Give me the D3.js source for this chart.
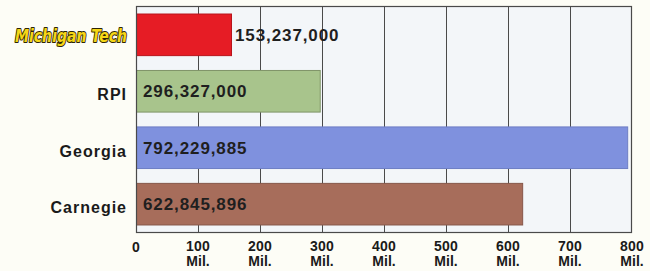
<!DOCTYPE html>
<html><head><meta charset="utf-8">
<script src="https://cdn.jsdelivr.net/npm/d3@7"></script>
<style>
html,body{margin:0;padding:0;background:#fdfdf6;}
svg{display:block;}
text{font-family:"Liberation Sans",Arial,Helvetica,sans-serif;font-weight:bold;}
</style></head>
<body>
<script>
const categories = ["MichiganTech", "RPI", "Georgia", "Carnegie"];
const values = [153237000, 296327000, 792229885, 622845896];
const valueLabels = ["153,237,000", "296,327,000", "792,229,885", "622,845,896"];
const barColors = ["#e61c25", "#a8c48c", "#7f91de", "#a76d5b"];
const barEdges = ["#b8141b", "#7f9468", "#6e7ec4", "#86574a"];
const tickValues = [0, 100, 200, 300, 400, 500, 600, 700, 800];

(function () {
const W = 650, H = 271;
const pL = 136, pR = 632, pT = 6, pB = 233;
const svg = d3.select("body").append("svg").attr("width", W).attr("height", H);

const x = d3.scaleLinear().domain([0, 800]).range([pL, pR]);
const y = d3.scaleBand().domain(categories).range([pT, pB]).paddingInner(0.263).paddingOuter(0.142);

svg.append("rect").attr("x", pL).attr("y", pT).attr("width", pR - pL).attr("height", pB - pT)
  .attr("fill", "#f3f6f9");

svg.append("g").selectAll("line").data(tickValues.slice(1, -1)).join("line")
  .attr("x1", d => x(d) + 0.5).attr("x2", d => x(d) + 0.5)
  .attr("y1", pT).attr("y2", pB)
  .attr("stroke", "#4a4a4a").attr("stroke-width", 1);

svg.append("g").selectAll("rect").data(categories).join("rect")
  .attr("x", pL + 0.5)
  .attr("y", d => y(d))
  .attr("width", (d, i) => x(values[i] / 1e6) - pL)
  .attr("height", y.bandwidth())
  .attr("fill", (d, i) => barColors[i])
  .attr("stroke", (d, i) => barEdges[i]).attr("stroke-width", 1);

svg.append("rect").attr("x", pL + 0.5).attr("y", pT + 0.5).attr("width", pR - pL - 1).attr("height", pB - pT - 1)
  .attr("fill", "none").attr("stroke", "#4a4a4a").attr("stroke-width", 1.2);

svg.append("g").selectAll("text").data(categories).join("text")
  .attr("x", (d, i) => i === 0 ? x(values[i] / 1e6) + 4 : pL + 7)
  .attr("y", d => y(d) + y.bandwidth() / 2 + 6)
  .attr("font-size", 17).attr("letter-spacing", 0.9)
  .attr("fill", "#1f1f1f")
  .text((d, i) => valueLabels[i]);

svg.append("g").selectAll("text").data(categories.slice(1)).join("text")
  .attr("x", 127)
  .attr("y", d => y(d) + y.bandwidth() / 2 + 9)
  .attr("text-anchor", "end")
  .attr("font-size", 16).attr("letter-spacing", 1.0)
  .attr("fill", "#1a1a1a")
  .text(d => d);

svg.append("text")
  .attr("x", 127).attr("y", y(categories[0]) + y.bandwidth() / 2 + 7)
  .attr("text-anchor", "end")
  .style("font-family", "'DejaVu Sans', sans-serif")
  .attr("font-size", 18).attr("font-style", "italic").attr("font-weight", "bold")
  .attr("textLength", 112).attr("lengthAdjust", "spacingAndGlyphs")
  .attr("fill", "#f6d616").attr("stroke", "#2b2406").attr("stroke-width", 2)
  .attr("stroke-linejoin", "round")
  .attr("paint-order", "stroke")
  .text("Michigan Tech");

const tg = svg.append("g").selectAll("g").data(tickValues).join("g")
  .attr("transform", d => `translate(${x(d)},0)`);
tg.append("text")
  .attr("x", 0).attr("y", d => d === 0 ? 252 : 250.5)
  .attr("text-anchor", "middle").attr("font-size", 14).attr("letter-spacing", 0.3)
  .attr("fill", "#1a1a1a")
  .text(d => d);
tg.filter(d => d > 0).append("text")
  .attr("x", 0).attr("y", 265.5)
  .attr("text-anchor", "middle").attr("font-size", 14)
  .attr("fill", "#1a1a1a")
  .text("Mil.");
})();
</script>
</body></html>
